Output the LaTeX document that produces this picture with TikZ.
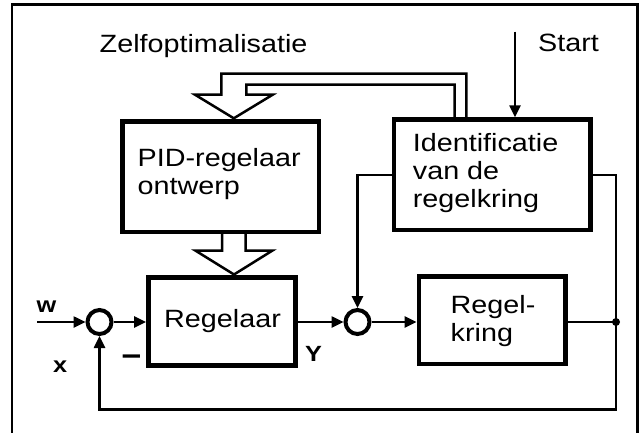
\documentclass[tikz,border=0pt]{standalone}
\usepackage{fontspec}
\setmainfont{Liberation Sans}[FakeStretch=1.15]
\usetikzlibrary{arrows.meta}
\begin{document}
\begin{tikzpicture}[x=1pt,y=-1pt,
  box/.style={draw, line width=4.5pt, inner sep=0pt},
  sumc/.style={draw, circle, line width=4pt, minimum size=24pt, inner sep=0pt},
  conn/.style={line width=2.5pt},
  arr/.style={conn, -{Triangle[length=12pt,width=11pt]}},
  hollow/.style={line width=2.5pt, line join=miter},
  lbl/.style={font=\fontsize{25}{28}\selectfont, inner sep=0pt, anchor=base west, align=left},
  blbl/.style={font=\fontsize{22}{26}\selectfont\bfseries, inner sep=0pt, anchor=base west}]
\useasboundingbox (0,0) rectangle (639,432);
% frame
\draw[line width=2.5pt] (12,434) -- (12,4.7) -- (637.5,4.7) -- (637.5,434);

% boxes
\node[box, minimum width=196.7pt, minimum height=110.3pt] (pid) at (220.85,176.85) {};
\node[box, minimum width=196.3pt, minimum height=110.5pt] (ident) at (492.35,174.75) {};
\node[box, minimum width=147.2pt, minimum height=88pt] (reg) at (221.9,321.5) {};
\node[box, minimum width=146.5pt, minimum height=87.5pt] (rk) at (492.05,320.25) {};
\node[sumc] (c1) at (99.5,322) {};
\node[sumc] (c2) at (357.5,322) {};

% texts (multi-line nodes: base = baseline of last line)
\node[lbl] (tzelf) at (99.5,52.3) {Zelfoptimalisatie};
\node[lbl] (tstart) at (538,51.7) {Start};
\node[lbl] (tpid) at (137.5,194) {PID-regelaar\\ontwerp};
\node[lbl] (tident) at (412.7,207.5) {Identificatie\\van de\\regelkring};
\node[lbl] (treg) at (164,327.3) {Regelaar};
\node[lbl] (trk) at (450.5,341.5) {Regel-\\kring};
\node[blbl] (tw) at (36.5,312) {w};
\node[blbl] (tx) at (53,372) {x};
\node[blbl] (tY) at (305,361.7) {Y};
\node[font=\fontsize{30}{30}\selectfont\bfseries, inner sep=0pt, anchor=base] (tminus) at (131.5,366) {−};

% coordinates
\coordinate (win) at (37.3,322);
\coordinate (junc) at (616,322);
\coordinate (fb) at (616,409.3);
\coordinate (start) at (515,31.7);

% signal connectors
\draw[arr] (win) -- (c1.west);
\draw[arr] (c1.east) -- (c1.east -| reg.west);
\draw[arr] (c2.west -| reg.east) -- (c2.west);
\draw[arr] (c2.east) -- (c2.east -| rk.west);
\draw[conn] (junc -| rk.east) -- (junc);
\draw[conn] (junc) |- (ident.east);
\draw[arr] (junc) -- (fb) -| (c1.south);
\draw[arr] (ident.west) -| (c2.north);
\draw[arr] (start) -- (start |- ident.north);
\fill (junc) circle (4pt);

% hollow arrows
\draw[hollow] (454.5,119.5) -- (454.5,84.7) -- (246.3,84.7) -- (246.3,94.7) -- (272.7,94.7)
  -- (233.8,118.3) -- (195,94.7) -- (221.3,94.7) -- (221.3,73.7) -- (466.3,73.7) -- (466.3,119.5);
\draw[hollow] (245.7,232) -- (245.7,250.7) -- (272.2,250.7) -- (234,274.5)
  -- (195.6,250.7) -- (222,250.7) -- (222,232);
\end{tikzpicture}
\end{document}
